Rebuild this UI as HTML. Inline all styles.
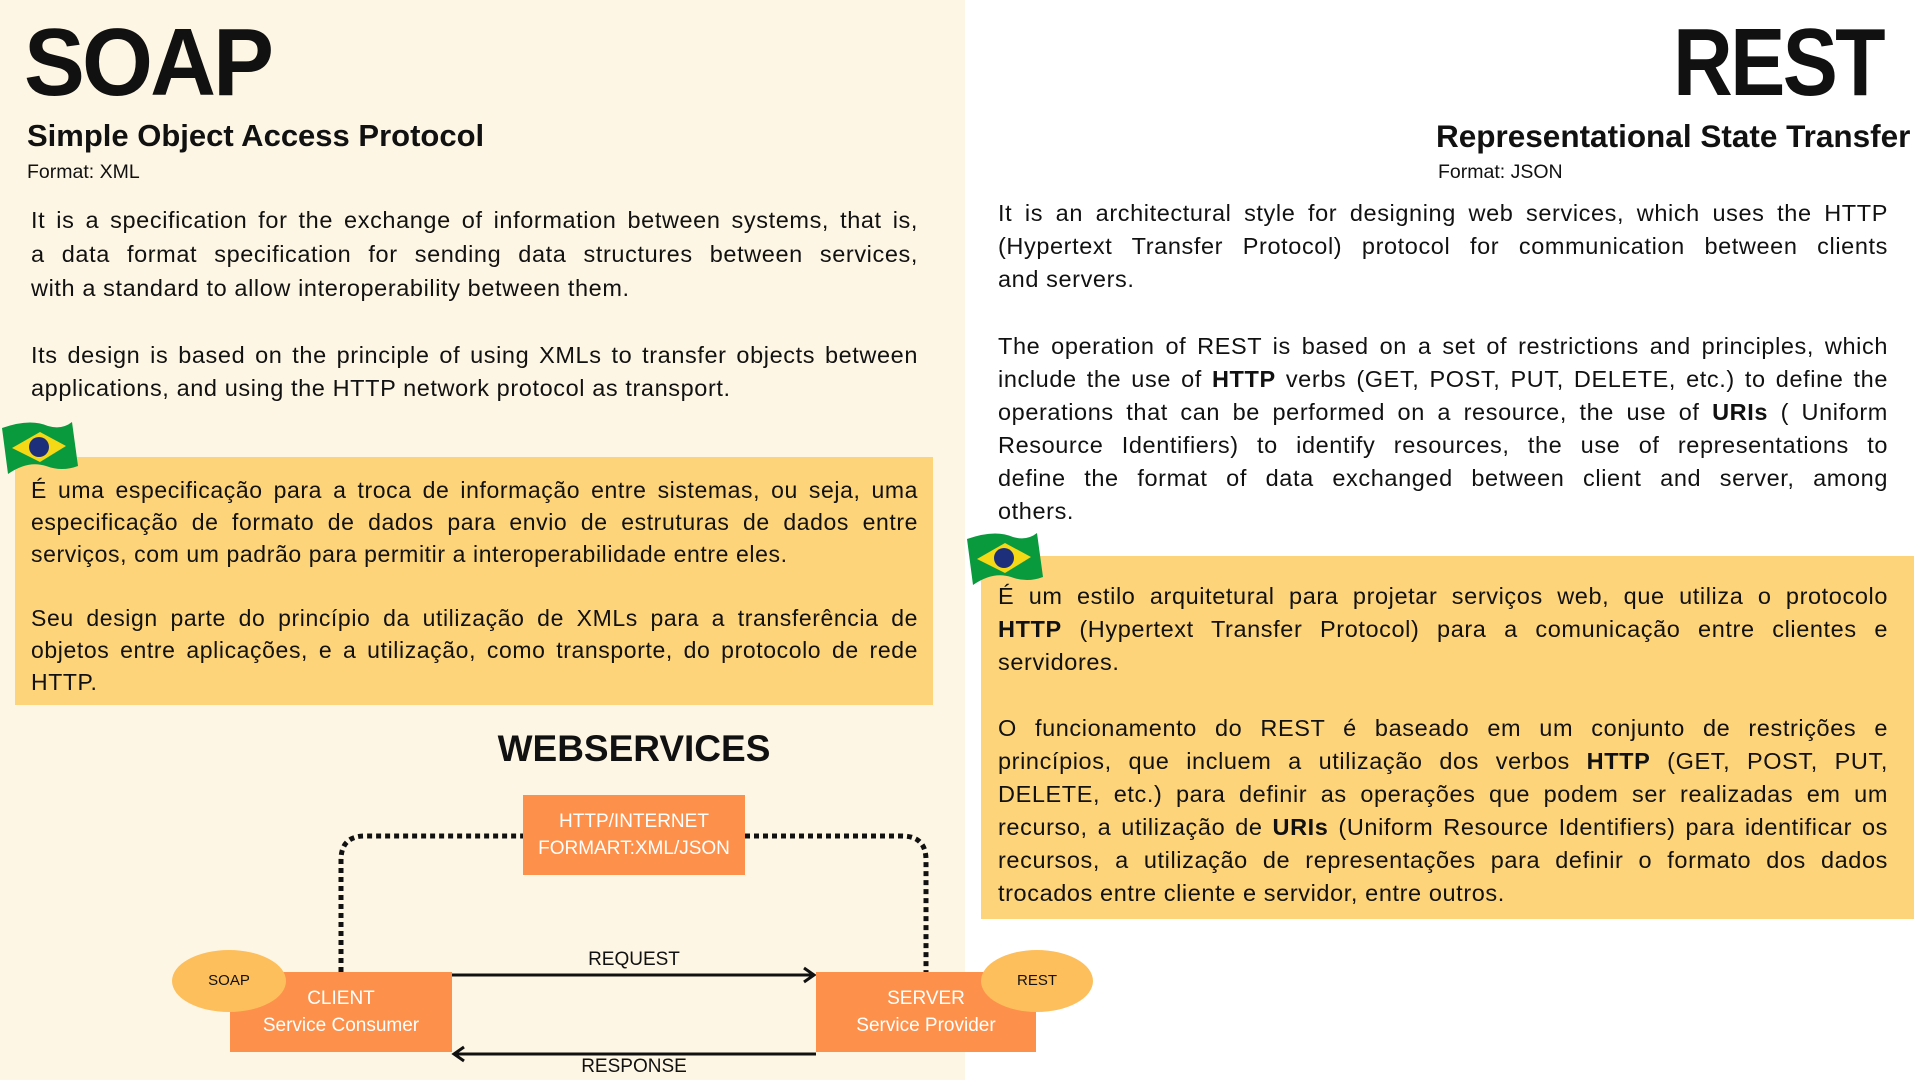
<!DOCTYPE html>
<html><head><meta charset="utf-8"><style>
body{margin:0;width:1920px;height:1080px;position:relative;background:#fff;font-family:"Liberation Sans",sans-serif;color:#111;overflow:hidden}
.a{position:absolute}
.l{position:absolute;white-space:nowrap;font-size:23.5px;line-height:33px;letter-spacing:0.6px}
.jl{text-align:justify;text-align-last:justify}
.p{font-size:23px;line-height:32px}
.yb{background:#fed47a}
.box{background:#fd914b;color:#fff;text-align:center;font-size:19px;line-height:27px;position:absolute}
.ell{background:#fdbf5c;border-radius:50%;position:absolute;font-size:15px;text-align:center}
</style></head><body>
<div class="a" style="left:0;top:0;width:965px;height:1080px;background:#fef6e4"></div>
<div class="a" style="left:24px;top:8px;font-size:96px;font-weight:bold;letter-spacing:-3px;transform:scaleX(0.95);transform-origin:left">SOAP</div>
<div class="a" style="left:27px;top:118px;font-size:31px;font-weight:bold">Simple Object Access Protocol</div>
<div class="a" style="left:27px;top:161px;font-size:19.5px">Format: XML</div>

<div class="l jl" style="left:31px;top:204px;width:887px">It is a specification for the exchange of information between systems, that is,</div>
<div class="l jl" style="left:31px;top:238px;width:887px">a data format specification for sending data structures between services,</div>
<div class="l" style="left:31px;top:272px">with a standard to allow interoperability between them.</div>
<div class="l jl" style="left:31px;top:339px;width:887px">Its design is based on the principle of using XMLs to transfer objects between</div>
<div class="l" style="left:31px;top:372px">applications, and using the HTTP network protocol as transport.</div>

<div class="a yb" style="left:15px;top:457px;width:918px;height:248px"></div>
<svg class="a" style="left:0;top:416px" width="80" height="60" viewBox="0 0 80 60"><path d="M2 12 Q30 2 48 10 Q62 14 72 6 L78 50 Q62 56 46 50 Q28 44 8 58 Z" fill="#0a9a3e"/><path d="M12 32 L40 16 L66 30 L40 46 Z" fill="#f5d816"/><circle cx="39" cy="31" r="10" fill="#1d2f7a"/></svg>
<div class="l jl p" style="left:31px;top:474px;width:887px">É uma especificação para a troca de informação entre sistemas, ou seja, uma</div>
<div class="l jl p" style="left:31px;top:506px;width:887px">especificação de formato de dados para envio de estruturas de dados entre</div>
<div class="l p" style="left:31px;top:538px">serviços, com um padrão para permitir a interoperabilidade entre eles.</div>
<div class="l jl p" style="left:31px;top:602px;width:887px">Seu design parte do princípio da utilização de XMLs para a transferência de</div>
<div class="l jl p" style="left:31px;top:634px;width:887px">objetos entre aplicações, e a utilização, como transporte, do protocolo de rede</div>
<div class="l p" style="left:31px;top:666px">HTTP.</div>

<div class="a" style="left:434px;top:728px;width:400px;text-align:center;font-size:37px;font-weight:bold">WEBSERVICES</div>
<svg class="a" style="left:0;top:0" width="1920" height="1080">
<path d="M341 972 V860 Q341 836 365 836 H523 M745 836 H902 Q926 836 926 860 V972" fill="none" stroke="#111" stroke-width="5" stroke-dasharray="5 4"/>
<line x1="452" y1="975" x2="812" y2="975" stroke="#111" stroke-width="3"/>
<path d="M804 968 L814 975 L804 982" fill="none" stroke="#111" stroke-width="3"/>
<line x1="456" y1="1054" x2="816" y2="1054" stroke="#111" stroke-width="3"/>
<path d="M464 1047 L454 1054 L464 1061" fill="none" stroke="#111" stroke-width="3"/>
</svg>
<div class="box" style="left:523px;top:795px;width:222px;height:80px;padding-top:13px;box-sizing:border-box">HTTP/INTERNET<br>FORMART:XML/JSON</div>
<div class="box" style="left:230px;top:972px;width:222px;height:80px;padding-top:13px;box-sizing:border-box">CLIENT<br>Service Consumer</div>
<div class="box" style="left:816px;top:972px;width:220px;height:80px;padding-top:13px;box-sizing:border-box">SERVER<br>Service Provider</div>
<div class="ell" style="left:172px;top:950px;width:114px;height:62px;line-height:62px">SOAP</div>
<div class="ell" style="left:981px;top:950px;width:112px;height:62px;line-height:62px">REST</div>
<div class="a" style="left:534px;top:949px;width:200px;text-align:center;font-size:19px">REQUEST</div>
<div class="a" style="left:534px;top:1056px;width:200px;text-align:center;font-size:19px">RESPONSE</div>

<div class="a" style="right:37px;top:8px;font-size:96px;font-weight:bold;letter-spacing:-3px;transform:scaleX(0.86);transform-origin:right">REST</div>
<div class="a" style="left:1436px;top:118px;font-size:31.5px;font-weight:bold">Representational State Transfer</div>
<div class="a" style="left:1438px;top:161px;font-size:19.5px">Format: JSON</div>

<div class="l jl" style="left:998px;top:197px;width:890px">It is an architectural style for designing web services, which uses the HTTP</div>
<div class="l jl" style="left:998px;top:230px;width:890px">(Hypertext Transfer Protocol) protocol for communication between clients</div>
<div class="l" style="left:998px;top:263px">and servers.</div>
<div class="l jl" style="left:998px;top:330px;width:890px">The operation of REST is based on a set of restrictions and principles, which</div>
<div class="l jl" style="left:998px;top:363px;width:890px">include the use of <b>HTTP</b> verbs (GET, POST, PUT, DELETE, etc.) to define the</div>
<div class="l jl" style="left:998px;top:396px;width:890px">operations that can be performed on a resource, the use of <b>URIs</b> ( Uniform</div>
<div class="l jl" style="left:998px;top:429px;width:890px">Resource Identifiers) to identify resources, the use of representations to</div>
<div class="l jl" style="left:998px;top:462px;width:890px">define the format of data exchanged between client and server, among</div>
<div class="l" style="left:998px;top:495px">others.</div>

<div class="a yb" style="left:981px;top:556px;width:933px;height:363px"></div>
<svg class="a" style="left:965px;top:527px" width="80" height="60" viewBox="0 0 80 60"><path d="M2 12 Q30 2 48 10 Q62 14 72 6 L78 50 Q62 56 46 50 Q28 44 8 58 Z" fill="#0a9a3e"/><path d="M12 32 L40 16 L66 30 L40 46 Z" fill="#f5d816"/><circle cx="39" cy="31" r="10" fill="#1d2f7a"/></svg>
<div class="l jl" style="left:998px;top:580px;width:890px">É um estilo arquitetural para projetar serviços web, que utiliza o protocolo</div>
<div class="l jl" style="left:998px;top:613px;width:890px"><b>HTTP</b> (Hypertext Transfer Protocol) para a comunicação entre clientes e</div>
<div class="l" style="left:998px;top:646px">servidores.</div>
<div class="l jl" style="left:998px;top:712px;width:890px">O funcionamento do REST é baseado em um conjunto de restrições e</div>
<div class="l jl" style="left:998px;top:745px;width:890px">princípios, que incluem a utilização dos verbos <b>HTTP</b> (GET, POST, PUT,</div>
<div class="l jl" style="left:998px;top:778px;width:890px">DELETE, etc.) para definir as operações que podem ser realizadas em um</div>
<div class="l jl" style="left:998px;top:811px;width:890px">recurso, a utilização de <b>URIs</b> (Uniform Resource Identifiers) para identificar os</div>
<div class="l jl" style="left:998px;top:844px;width:890px">recursos, a utilização de representações para definir o formato dos dados</div>
<div class="l" style="left:998px;top:877px">trocados entre cliente e servidor, entre outros.</div>
</body></html>
